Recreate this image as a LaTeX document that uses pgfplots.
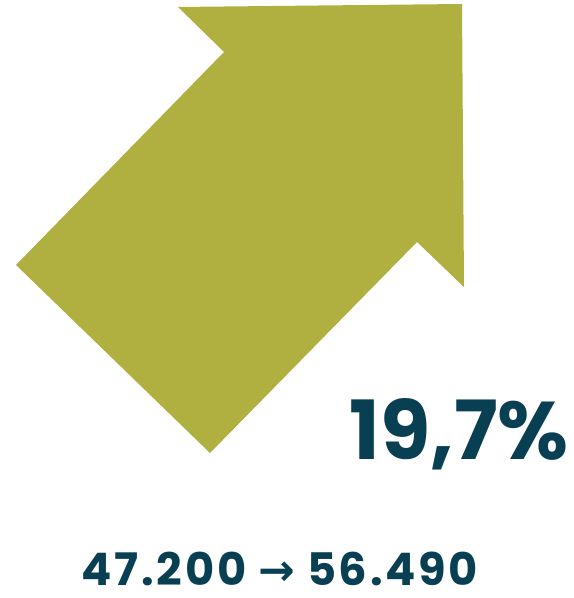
\documentclass[border=0pt]{standalone}
\usepackage{pgfplots}
\pgfplotsset{compat=1.18}
\usepackage{fontspec}
\setmainfont{Poppins}
\newfontfamily\spacedfont[LetterSpace=6]{Poppins}
\newfontfamily\symfont{DejaVu Sans}
\definecolor{arrowgreen}{RGB}{176,176,65}
\definecolor{darkteal}{RGB}{9,63,82}
\begin{document}
\begin{tikzpicture}
\begin{axis}[
  scale only axis,
  width=574bp, height=598bp,
  xmin=0, xmax=574, ymin=0, ymax=598,
  hide axis, clip=false,
]
% arrow outline (pixel coordinates, y measured upward)
\addplot[fill=arrowgreen, draw=none] coordinates {
  (178,591) (462,594) (464,311) (417,356) (210,145) (16,333) (224,546) (178,591)
};
\node[anchor=base east, font=\fontsize{82}{82}\selectfont\bfseries, text=darkteal, inner sep=0pt]
  at (axis cs:569,138) {19,7\%};
\node[anchor=base, font=\spacedfont\fontsize{45}{45}\selectfont\bfseries, text=darkteal, inner sep=0pt]
  at (axis cs:280,12) {47.200\hspace{12bp}{\symfont\fontsize{44}{44}\selectfont →}\hspace{12bp}56.490};
\end{axis}
\pgfresetboundingbox
\useasboundingbox (0,0) rectangle (574bp,598bp);
\end{tikzpicture}
\end{document}
